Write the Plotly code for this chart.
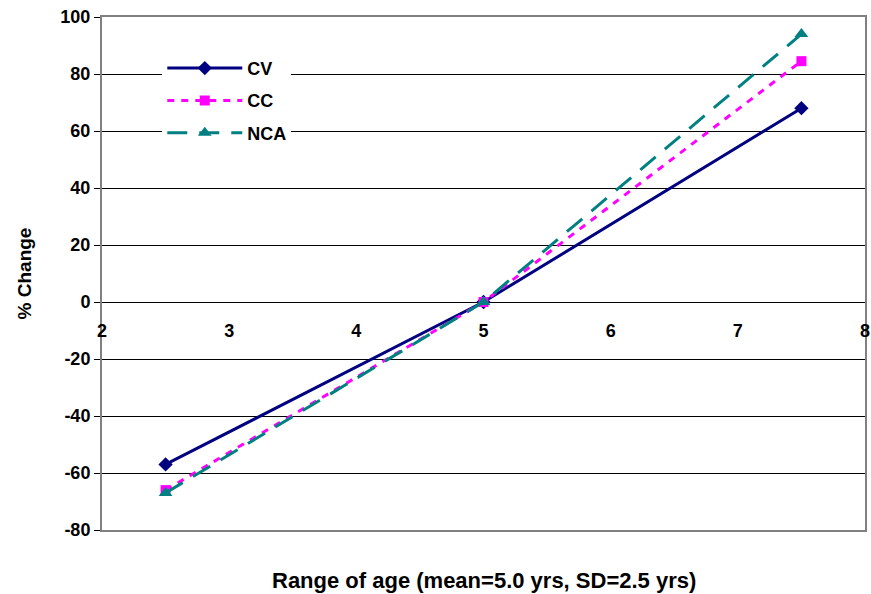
import plotly.graph_objects as go

# age range (x) and % change for each method
age = [2.5, 5.0, 7.5]
cv = [-57, 0, 68]
cc = [-66, 0, 84.5]
nca = [-67, 0, 94]

x_ticks = [2, 3, 4, 5, 6, 7, 8]
y_ticks = [-80, -60, -40, -20, 0, 20, 40, 60, 80, 100]
y_labels = [str(v) for v in y_ticks]  # plain hyphen, not unicode minus

fig = go.Figure()
fig.add_trace(go.Scatter(x=age, y=cv, name="CV", mode="lines+markers", legendgroup="a",
                         line=dict(color="#000080", width=3),
                         marker=dict(symbol="diamond", size=11, color="#000080")))
fig.add_trace(go.Scatter(x=age, y=cc, name="CC", mode="lines+markers", legendgroup="b",
                         line=dict(color="#FF00FF", width=3, dash="7px,7px"),
                         marker=dict(symbol="square", size=10, color="#FF00FF")))
fig.add_trace(go.Scatter(x=age, y=nca, name="NCA", mode="lines+markers", legendgroup="c",
                         line=dict(color="#008080", width=3, dash="20px,12px"),
                         marker=dict(symbol="triangle-up", size=12, color="#008080")))

# invisible trace to drive the crossing x axis with labels at y=0
fig.add_trace(go.Scatter(x=age, y=cv, xaxis="x2", showlegend=False,
                         mode="none", hoverinfo="skip"))

fig.update_layout(
    width=871, height=594,
    margin=dict(l=102, r=6, t=17, b=64),
    paper_bgcolor="white", plot_bgcolor="white",
    font=dict(family="Liberation Sans, Arial", size=18, color="black"),
    showlegend=True,
    legend=dict(x=0.079, y=0.936, xanchor="left", yanchor="top",
                bgcolor="white", borderwidth=0, traceorder="grouped",
                font=dict(size=18, family="Liberation Sans, Arial", weight="bold"),
                itemwidth=75, tracegroupgap=6),
    xaxis=dict(range=[2, 8], tickvals=x_ticks, showticklabels=False,
               showgrid=False, zeroline=False, showline=True, automargin=False,
               linecolor="#808080", linewidth=2, mirror=True, ticks=""),
    xaxis2=dict(range=[2, 8], tickvals=x_ticks, overlaying="x", anchor="free",
                position=80 / 180, side="bottom", showgrid=False, zeroline=False,
                showline=False, ticks="outside", ticklen=12, automargin=False,
                tickcolor="rgba(0,0,0,0)",
                tickfont=dict(size=18, weight="bold")),
    yaxis=dict(range=[-80, 100], tickvals=y_ticks, ticktext=y_labels, showgrid=True,
               gridcolor="#000000", gridwidth=1, zeroline=True, automargin=False,
               zerolinecolor="#000000", zerolinewidth=1,
               showline=True, linecolor="#808080", linewidth=2, mirror=True,
               ticks="outside", ticklen=6, tickcolor="#000000",
               tickfont=dict(size=18, weight="bold"),
               title=dict(text="% Change", font=dict(size=19, weight="bold"),
                          standoff=24)),
)

fig.add_annotation(text="Range of age (mean=5.0 yrs, SD=2.5 yrs)",
                   xref="paper", yref="paper", x=0.5, y=0, yshift=-50,
                   showarrow=False, yanchor="middle",
                   font=dict(size=22, weight="bold"))

# page body has a default 8px margin that would shift the figure
fig.write_html("out.html", config={"displayModeBar": False},
               post_script="document.body.style.margin='0';")
